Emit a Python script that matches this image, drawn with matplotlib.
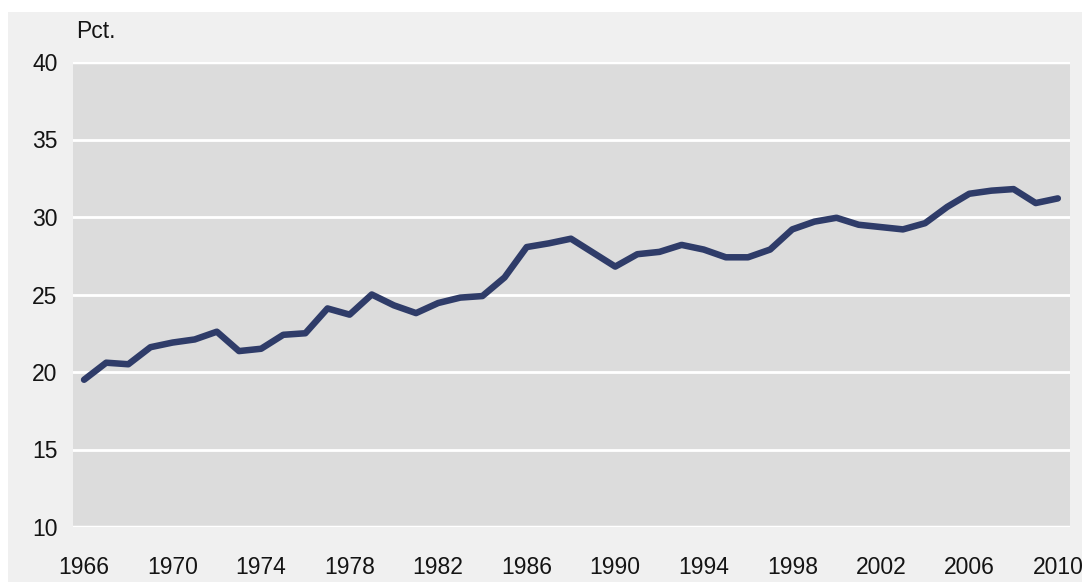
import matplotlib
matplotlib.use('Agg')
import matplotlib.pyplot as plt
from matplotlib.patches import Rectangle

years = list(range(1966, 2011))
pct = [19.5, 20.6, 20.5, 21.6, 21.9, 22.1, 22.6, 21.35, 21.5, 22.4,
       22.5, 24.1, 23.7, 25.0, 24.3, 23.8, 24.45, 24.8, 24.9, 26.1,
       28.06, 28.3, 28.6, 27.7, 26.8, 27.6, 27.75, 28.2, 27.9, 27.4,
       27.4, 27.9, 29.2, 29.7, 29.95, 29.5, 29.35, 29.2, 29.6, 30.65,
       31.5, 31.7, 31.8, 30.9, 31.2]
x_ticks = list(range(1966, 2011, 4))
y_ticks = [10, 15, 20, 25, 30, 35, 40]

plt.rcParams['font.family'] = ['Liberation Sans', 'DejaVu Sans']

fig = plt.figure(figsize=(10.82, 5.82), dpi=100)
fig.patch.set_facecolor('white')
# light grey frame behind the chart
fig.patches.append(Rectangle((8 / 1082, 0), 1, (582 - 12) / 582,
                             transform=fig.transFigure, facecolor='#f0f0f0',
                             edgecolor='none', zorder=-10))

ax = fig.add_axes([73 / 1082, 55 / 582, (1070 - 73) / 1082, (527 - 62) / 582])
ax.set_zorder(1)
ax.set_facecolor('#dcdcdc')
ax.plot(years, pct, color='#2f3c69', lw=4.7, solid_joinstyle='round',
        solid_capstyle='round', zorder=3)

ax.set_xlim(1965.5, 2010.55)
ax.set_ylim(10, 40)
ax.set_yticks(y_ticks)
ax.set_xticks(x_ticks)
ax.grid(axis='y', color='white', lw=2)
ax.set_axisbelow(True)
for s in ax.spines.values():
    s.set_visible(False)
ax.axhline(10, color='white', lw=2.5, zorder=2)
ax.axhline(40, color='white', lw=2.5, zorder=2)

ax.tick_params(axis='both', length=0, labelsize=16.5, colors='#141414')
ax.tick_params(axis='y', pad=11)
ax.tick_params(axis='x', pad=21)

fig.text(76 / 1082, 1 - 31 / 582, 'Pct.', fontsize=16.5, color='#141414',
         ha='left', va='center')

fig.savefig('out.png', dpi=100)
